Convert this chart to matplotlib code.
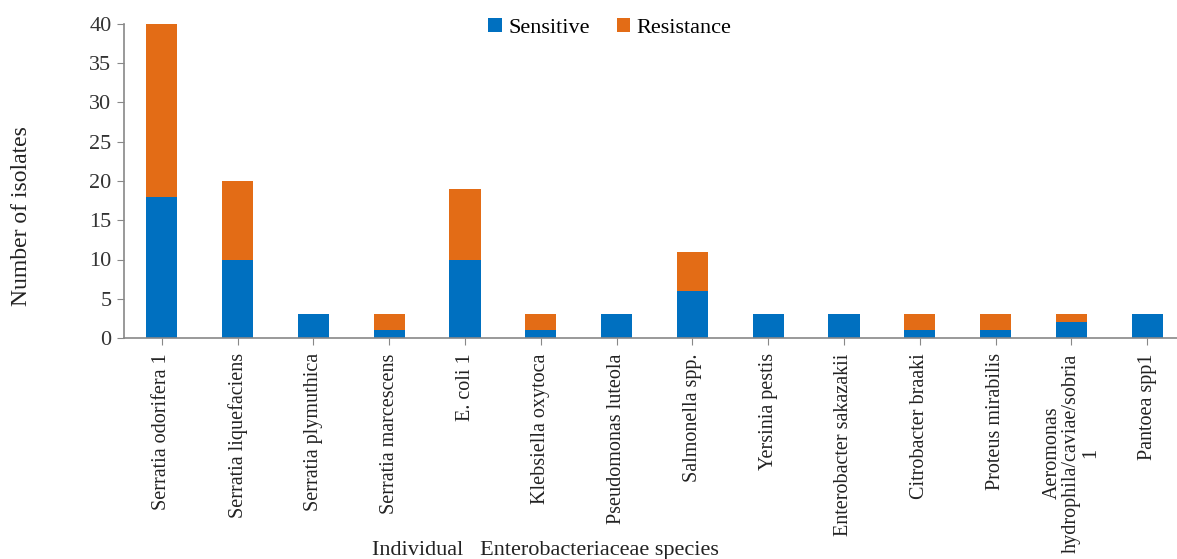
import matplotlib
matplotlib.use("Agg")
import matplotlib.pyplot as plt
import numpy as np

categories = ["Serratia odorifera 1", "Serratia liquefaciens", "Serratia plymuthica",
              "Serratia marcescens", "E. coli 1", "Klebsiella oxytoca",
              "Pseudomonas luteola", "Salmonella spp.", "Yersinia pestis",
              "Enterobacter sakazakii", "Citrobacter braaki", "Proteus mirabilis",
              "Aeromonas\nhydrophila/caviae/sobria\n1", "Pantoea spp1"]
sensitive = [18, 10, 3, 1, 10, 1, 3, 6, 3, 3, 1, 1, 2, 3]
resistance = [22, 10, 0, 2, 9, 2, 0, 5, 0, 0, 2, 2, 1, 0]
yticks = [0, 5, 10, 15, 20, 25, 30, 35, 40]

plt.rcParams['font.family'] = ['Liberation Serif', 'DejaVu Serif']

W, H = 1177, 559
fig = plt.figure(figsize=(W/100, H/100), dpi=100)
left, right, top, bottom = 124, 1185, 24, 338
ax = fig.add_axes([left/W, 1 - bottom/H, (right-left)/W, (bottom-top)/H])

x = np.arange(len(categories))
blue = "#0070C0"
orange = "#E36C16"
ax.bar(x, sensitive, width=0.41, color=blue, label="Sensitive", zorder=2)
ax.bar(x, resistance, width=0.41, bottom=sensitive, color=orange, label="Resistance", zorder=2)

ax.set_xlim(-0.5, len(categories) - 0.5)
ax.set_ylim(0, 40)
ax.set_yticks(yticks)
ax.tick_params(axis='y', labelsize=16, length=5, color='#888888', labelcolor='#333333', pad=4)
ax.set_xticks(x)
ax.set_xticklabels(categories, rotation=90, fontsize=14.5, color='#222222', va='top', ha='center',
                   multialignment='center', linespacing=1.0)
ax.tick_params(axis='x', length=5, color='#888888', pad=6)
for s in ['top', 'right']:
    ax.spines[s].set_visible(False)
for s in ['left', 'bottom']:
    ax.spines[s].set_color('#888888')
    ax.spines[s].set_linewidth(1.2)

fig.text(22/W, 1 - 216/H, "Number of isolates", fontsize=17, rotation=90,
         ha='center', va='center', color='#222222')
fig.text(545/W, 1 - 550/H, "Individual   Enterobacteriaceae species", fontsize=16,
         ha='center', va='center', color='#222222')

leg = ax.legend(loc='center', bbox_to_anchor=(610/W, 1 - 28/H), bbox_transform=fig.transFigure,
                ncol=2, frameon=False, fontsize=16, handlelength=0.6, handleheight=0.6,
                handletextpad=0.3, columnspacing=1.2, borderpad=0)

fig.savefig("out.png", dpi=100)
